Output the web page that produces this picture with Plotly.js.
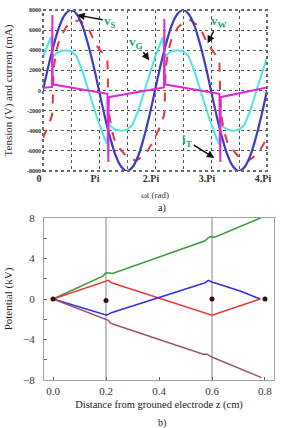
<!DOCTYPE html>
<html><head><meta charset="utf-8">
<script src="https://cdn.plot.ly/plotly-3.0.1.min.js"></script>
<style>html,body{margin:0;padding:0;background:#fff}#plot{width:281px;height:428px}</style>
</head><body><div id="plot"></div>
<script>
// ---- Chart a): waveforms (x in units of Pi) ----
const tS = [0,0.1,0.2,0.3,0.4,0.5,0.6,0.7,0.8,0.9,1,1.1,1.2,1.3,1.4,1.5,1.6,1.7,1.8,1.9,2,2.1,2.2,2.3,2.4,2.5,2.6,2.7,2.8,2.9,3,3.1,3.2,3.3,3.4,3.5,3.6,3.7,3.8,3.9,4];
const vS = [0,2500,4700,6500,7600,8000,7600,6500,4700,2500,0,-2500,-4700,-6500,-7600,-8000,-7600,-6500,-4700,-2500,0,2500,4700,6500,7600,8000,7600,6500,4700,2500,0,-2500,-4700,-6500,-7600,-8000,-7600,-6500,-4700,-2500,0];

const tW = [0,0.08,0.16,0.17,0.19,0.24,0.29,0.41,0.53,0.65,0.8,0.95,1.05,1.15,1.17,1.23,1.3,1.48,1.66,1.84,2,2.08,2.16,2.17,2.19,2.24,2.29,2.41,2.53,2.63,2.8,2.95,3.05,3.15,3.17,3.23,3.3,3.48,3.66,3.84,4];
const vW = [-4700,-3700,-2500,-2000,2200,4000,5000,6300,6800,7000,6300,4500,3800,3000,-2000,-4000,-5300,-6500,-7000,-6300,-4700,-3700,-2500,-2000,2200,4000,5000,6300,6800,7000,6300,4500,3800,3000,-2000,-4000,-5300,-6500,-7000,-6300,-4700];

const tG = [0,0.07,0.14,0.17,0.22,0.3,0.4,0.5,0.6,0.7,0.8,0.9,1,1.07,1.14,1.17,1.22,1.3,1.4,1.5,1.6,1.7,1.8,1.9,2,2.07,2.14,2.17,2.22,2.3,2.4,2.5,2.6,2.7,2.8,2.9,3,3.07,3.14,3.17,3.22,3.3,3.4,3.5,3.6,3.7,3.8,3.9,4];
const vG = [3300,4300,5300,3300,3600,3900,4000,3900,3400,2000,200,-1700,-3300,-4300,-5300,-3300,-3600,-3900,-4000,-3900,-3400,-2000,-200,1700,3300,4300,5300,3300,3600,3900,4000,3900,3400,2000,200,-1700,-3300,-4300,-5300,-3300,-3600,-3900,-4000,-3900,-3400,-2000,-200,1700,3300];

const tT = [0,0.16,0.167,0.173,0.18,1.15,1.167,1.173,1.18,2.16,2.167,2.173,2.18,3.15,3.167,3.173,3.18,4];
const vT = [270,350,7500,500,600,-330,-7100,-600,-650,300,7100,500,600,-330,-7100,-600,-650,300];

const xTickVals = [0,1,2,3,4];
const xTickText = ['0','Pi','2.Pi','3.Pi','4.Pi'];
const yTickVals = [-8000,-6000,-4000,-2000,0,2000,4000,6000,8000];
const yTickText = ['-8000','-6000','-4000','-2000','0','2000','4000','6000','8000'];

// ---- Chart b): potential profiles ----
const zGreen = [0,0.19,0.196,0.203,0.225,0.574,0.584,0.592,0.61,0.787];
const vGreen = [0,2.27,2.5,2.6,2.53,5.75,6.0,6.15,6.1,8.05];
const zRed = [0,0.196,0.209,0.221,0.586,0.6,0.611,0.706,0.782];
const vRed = [0,1.68,1.84,1.6,-1.51,-1.6,-1.51,-0.69,0];
const zBlue = [0,0.196,0.203,0.22,0.574,0.586,0.6,0.706,0.782];
const vBlue = [0,-1.51,-1.6,-1.35,1.61,1.84,1.68,0.79,0];
const zMauve = [0,0.19,0.209,0.215,0.228,0.567,0.582,0.599,0.787];
const vMauve = [0,-1.94,-2.1,-2.34,-2.5,-5.46,-5.45,-5.73,-7.77];
const zDots = [0,0.2,0.6,0.8];
const vDots = [0,-0.15,0,0];
const zBound = [0.2,0.6];

const serif = 'Liberation Serif';
const traces = [
  {x:tG,y:vG,mode:'lines',line:{color:'#4ce6e6',width:2},xaxis:'x',yaxis:'y',hoverinfo:'skip'},
  {x:tW,y:vW,mode:'lines',line:{color:'#e23a3a',width:2,dash:'dash'},xaxis:'x',yaxis:'y',hoverinfo:'skip'},
  {x:tS,y:vS,mode:'lines',line:{color:'#3b3bc4',width:2.2,shape:'spline'},xaxis:'x',yaxis:'y',hoverinfo:'skip'},
  {x:tT,y:vT,mode:'lines',line:{color:'#e02ad6',width:2},xaxis:'x',yaxis:'y',hoverinfo:'skip'}
];
zBound.forEach(b=>traces.push({x:[b,b],y:[-8,8],mode:'lines',line:{color:'#9a9a9a',width:1.2},xaxis:'x2',yaxis:'y2',hoverinfo:'skip'}));
traces.push(
  {x:zGreen,y:vGreen,mode:'lines',line:{color:'#3c9a3c',width:1.5},xaxis:'x2',yaxis:'y2'},
  {x:zRed,y:vRed,mode:'lines',line:{color:'#e83a3a',width:1.5},xaxis:'x2',yaxis:'y2'},
  {x:zBlue,y:vBlue,mode:'lines',line:{color:'#3030e0',width:1.5},xaxis:'x2',yaxis:'y2'},
  {x:zMauve,y:vMauve,mode:'lines',line:{color:'#a2506e',width:1.5},xaxis:'x2',yaxis:'y2'},
  {x:zDots,y:vDots,mode:'markers',marker:{color:'#3a0c0c',size:5},xaxis:'x2',yaxis:'y2'}
);

const labFont = {family:serif,size:13,color:'#22a566',weight:'bold'};
const arrow = {showarrow:true,arrowhead:2,arrowsize:1,arrowwidth:1.5,arrowcolor:'#111',xref:'x',yref:'y'};

const layout = {
  width:281,height:428,margin:{l:0,r:0,t:0,b:0},
  paper_bgcolor:'#fff',plot_bgcolor:'#fff',showlegend:false,
  font:{family:serif,color:'#222'},
  xaxis:{domain:[43/281,267/281],anchor:'y',range:[0,4],tickvals:xTickVals,ticktext:xTickText,
    showgrid:true,gridcolor:'#555',griddash:'dot',gridwidth:1,zeroline:false,ticks:'',
    minor:{dtick:0.5,tick0:0,showgrid:true,gridcolor:'#555',griddash:'dot',gridwidth:1,ticks:''},
    tickfont:{family:serif,size:10,color:'#333',weight:'bold'},ticklabelshift:-4,
    title:{text:'ωt (rad)',font:{family:serif,size:9,color:'#333'},standoff:8}},
  yaxis:{domain:[257/428,418/428],anchor:'x',range:[-8000,8000],tickvals:yTickVals,ticktext:yTickText,
    showgrid:true,gridcolor:'#555',griddash:'dot',gridwidth:1,zeroline:false,ticks:'',
    tickfont:{family:serif,size:6,color:'#333',weight:'bold'},ticklabelstandoff:1,
    title:{text:'Tension (V) and current (mA)',font:{family:serif,size:11,color:'#333'},standoff:12}},
  xaxis2:{domain:[44/281,274/281],anchor:'y2',range:[-0.034,0.834],tickvals:[0,0.2,0.4,0.6,0.8],ticktext:['0.0','0.2','0.4','0.6','0.8'],
    showgrid:false,zeroline:false,showline:true,mirror:true,linecolor:'#a0a0a0',linewidth:1,
    ticks:'inside',ticklen:3,tickcolor:'#666',ticklabelstandoff:1,
    tickfont:{family:serif,size:11,color:'#333'},
    title:{text:'Distance from grouned electrode z (cm)',font:{family:serif,size:10.5,color:'#222'},standoff:4}},
  yaxis2:{domain:[48/428,210/428],anchor:'x2',range:[-8,8],tickvals:[-8,-4,0,4,8],
    showgrid:false,zeroline:false,showline:true,mirror:true,linecolor:'#a0a0a0',linewidth:1,
    ticks:'inside',ticklen:3,tickcolor:'#666',ticklabelstandoff:6,
    minor:{tickvals:[-6,-2,2,6],ticks:'inside',ticklen:3,tickcolor:'#666'},
    tickfont:{family:serif,size:11,color:'#333'},
    title:{text:'Potential (kV)',font:{family:serif,size:11,color:'#222'},standoff:8}},
  shapes:[{type:'rect',xref:'x domain',yref:'y domain',x0:0,x1:1,y0:0,y1:1,line:{color:'#6a6a6a',width:2,dash:'dot'}}],
  annotations:[
    Object.assign({x:0.61,y:7500,ax:33,ay:6,text:'v<sub>S</sub>',font:labFont},arrow),
    Object.assign({x:2.94,y:4700,ax:11,ay:-22,text:'v<sub>W</sub>',font:labFont},arrow),
    Object.assign({x:1.896,y:3000,ax:-13,ay:-18,text:'v<sub>G</sub>',font:labFont},arrow),
    Object.assign({x:3.06,y:-6700,ax:-27,ay:-17,text:'i<sub>T</sub>',font:labFont},arrow),
    {xref:'paper',yref:'paper',x:162/281,y:1-208/428,yanchor:'middle',text:'a)',showarrow:false,font:{family:serif,size:10,color:'#222'}},
    {xref:'paper',yref:'paper',x:162/281,y:1-423/428,yanchor:'middle',text:'b)',showarrow:false,font:{family:serif,size:10,color:'#222'}}
  ]
};
Plotly.newPlot('plot',traces,layout,{displayModeBar:false,staticPlot:true});
</script></body></html>
